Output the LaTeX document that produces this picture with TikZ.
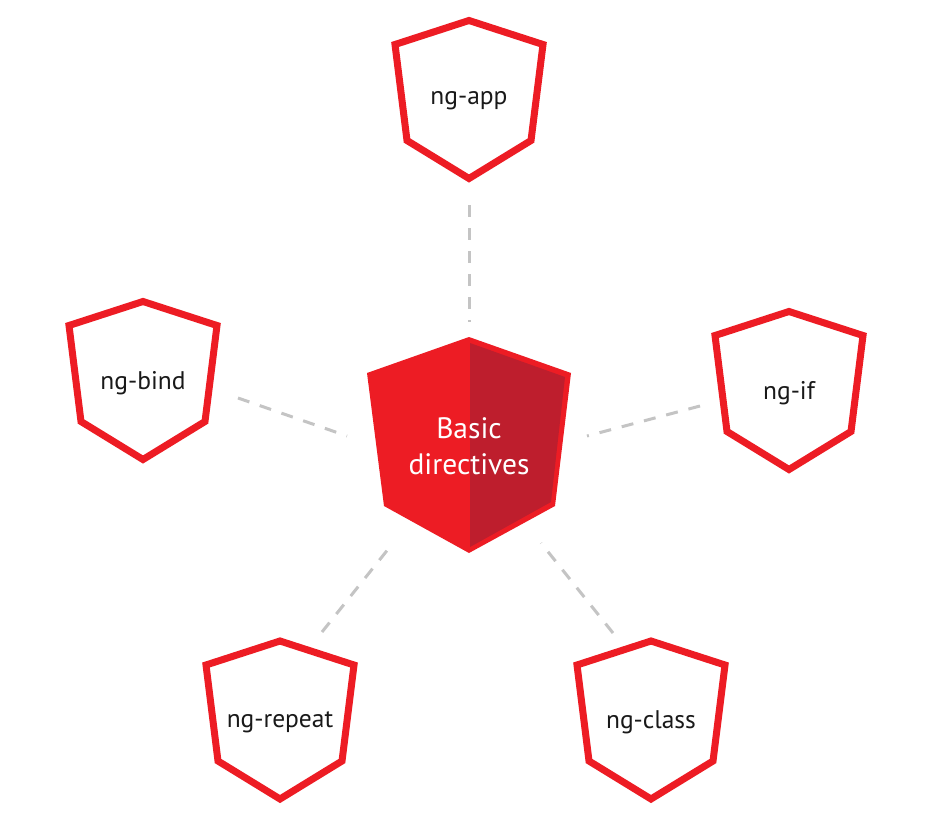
\documentclass[tikz,border=0pt]{standalone}
\usepackage{fontspec}
\setmainfont{PT Sans}
\definecolor{ngred}{HTML}{ED1C24}
\definecolor{ngdark}{HTML}{BE1E2D}
\definecolor{linkgray}{HTML}{C4C4C4}
\begin{document}
\begin{tikzpicture}[x=1pt,y=-1pt,
  shieldline/.style={draw=ngred,line width=7pt,fill=white,line join=miter},
  lbl/.style={font=\fontsize{25.5}{28}\selectfont,text=black!90,inner sep=0pt},
  centerlbl/.style={font=\fontsize{29.5}{36}\selectfont,text=white,align=center,inner sep=0pt},
  link/.style={draw=linkgray,line width=3pt,dash pattern=on 12pt off 11pt},
  shield/.pic={
    \path[shieldline] (0,-79) -- (74,-55) -- (62,41) -- (0,79) -- (-62,41) -- (-74,-55) -- cycle;
  }]
\useasboundingbox[fill=white] (0,0) rectangle (940,824);

% outer shields
\pic at (469,99.5) {shield};
\pic at (143,380.5) {shield};
\pic at (789,390.5) {shield};
\pic at (280,720) {shield};
\pic at (651,720) {shield};

% center shield
\fill[ngred] (469,337) -- (571,373) -- (555,506) -- (469,553) -- (384,506) -- (367,373) -- cycle;
\fill[ngdark] (470,343) -- (565,377) -- (551,502) -- (470,547) -- cycle;

% labels
\node[lbl] (app) at (469,101) {ng-app};
\node[lbl] (bind) at (143,383) {ng-bind};
\node[lbl] (if) at (789,393) {ng-if};
\node[lbl] (repeat) at (280,722) {ng-repeat};
\node[lbl] (class) at (651,722) {ng-class};
\node[centerlbl] (basic) at (469,446) {Basic\\directives};

% connector end points
\coordinate (appE) at (469,205);
\coordinate (appC) at (469,322);
\coordinate (bindE) at (238,398);
\coordinate (bindC) at (347,436);
\coordinate (ifE) at (700,406);
\coordinate (ifC) at (587,436);
\coordinate (repE) at (322,632);
\coordinate (repC) at (393,543);
\coordinate (clsE) at (613,633);
\coordinate (clsC) at (541,543);

\draw[link] (appE) -- (appC);
\draw[link] (bindE) -- (bindC);
\draw[link] (ifE) -- (ifC);
\draw[link] (repE) -- (repC);
\draw[link] (clsE) -- (clsC);
\end{tikzpicture}
\end{document}
